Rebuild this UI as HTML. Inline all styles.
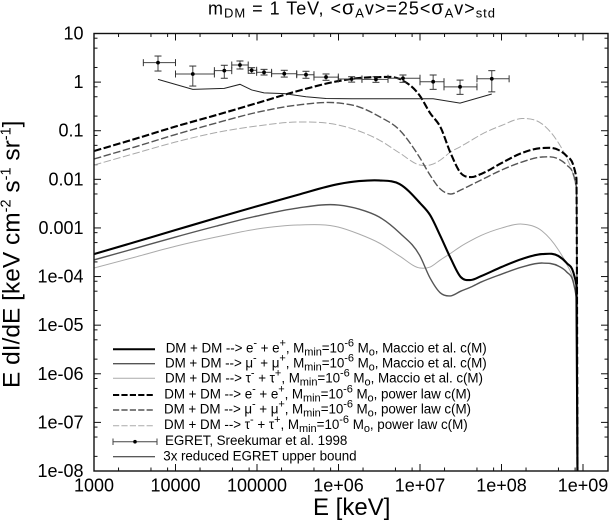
<!DOCTYPE html>
<html lang="en">
<head>
<meta charset="utf-8">
<title>Gamma-ray spectrum chart</title>
<style>
html,body{margin:0;padding:0;background:#fff;}
svg{display:block;font-family:"Liberation Sans",sans-serif;fill:#000;}
.leg{font-size:13.4px;}
.tk{font-size:18px;}
</style>
</head>
<body>
<svg id="chart" xmlns="http://www.w3.org/2000/svg" width="613" height="520" viewBox="0 0 613 520">
<defs><clipPath id="plot-clip"><rect x="94" y="33.5" width="514" height="437.5"/></clipPath></defs>
<text x="208" y="14.5" font-size="18" textLength="287">m<tspan dy="3" font-size="13">DM</tspan><tspan dy="-3"> = 1 TeV, &lt;</tspan><tspan font-size="20">σ</tspan><tspan dy="3" font-size="13">A</tspan><tspan dy="-3">v&gt;=25&lt;</tspan><tspan font-size="20">σ</tspan><tspan dy="3" font-size="13">A</tspan><tspan dy="-3">v&gt;</tspan><tspan dy="3" font-size="13">std</tspan></text>
<text transform="translate(19.5,388) rotate(-90)" font-size="24.5">E dI/dE [keV cm<tspan dy="-9" font-size="14.5">-2</tspan><tspan dy="9"> s</tspan><tspan dy="-9" font-size="14.5">-1</tspan><tspan dy="9"> sr</tspan><tspan dy="-9" font-size="14.5">-1</tspan><tspan dy="9">]</tspan></text>
<text x="313" y="515" font-size="24">E [keV]</text>
<g id="ticks"></g>
<g id="series" clip-path="url(#plot-clip)"></g>
<rect x="94" y="33.5" width="514" height="437.5" fill="none" stroke="#111" stroke-width="1.4"/>
<g>
  <line x1="113" x2="155" y1="349.3" y2="349.3" stroke="#000" stroke-width="2"/>
  <line x1="113" x2="155" y1="363.7" y2="363.7" stroke="#555" stroke-width="1.4"/>
  <line x1="113" x2="155" y1="378.3" y2="378.3" stroke="#aaa" stroke-width="1"/>
  <line x1="113" x2="155" y1="395" y2="395" stroke="#000" stroke-width="2" stroke-dasharray="6.2 2.2"/>
  <line x1="113" x2="155" y1="410" y2="410" stroke="#555" stroke-width="1.4" stroke-dasharray="6.2 2.2"/>
  <line x1="113" x2="155" y1="425.7" y2="425.7" stroke="#aaa" stroke-width="1" stroke-dasharray="6.2 2.2"/>
  <g>
    <line x1="113" x2="157" y1="441.7" y2="441.7" stroke="#444" stroke-width="1"/>
    <line x1="113" x2="113" y1="438.5" y2="445" stroke="#444" stroke-width="1"/>
    <line x1="157" x2="157" y1="438.5" y2="445" stroke="#444" stroke-width="1"/>
    <circle cx="135" cy="441.7" r="1.8" fill="#000"/>
  </g>
  <line x1="113" x2="155" y1="456.7" y2="456.7" stroke="#222" stroke-width="1"/>
  <text class="leg" x="165.7" y="352.7" textLength="321">DM + DM --&gt; e<tspan dy="-6" font-size="11">-</tspan><tspan dy="6"> + e</tspan><tspan dy="-6" font-size="11">+</tspan><tspan dy="6">, M</tspan><tspan dy="3" font-size="11">min</tspan><tspan dy="-3">=10</tspan><tspan dy="-6" font-size="11">-6</tspan><tspan dy="6"> M</tspan><tspan dy="3" font-size="11">o</tspan><tspan dy="-3">, Maccio et al. c(M)</tspan></text>
  <text class="leg" x="165" y="367.3" textLength="321.7">DM + DM --&gt; μ<tspan dy="-6" font-size="11">-</tspan><tspan dy="6"> + μ</tspan><tspan dy="-6" font-size="11">+</tspan><tspan dy="6">, M</tspan><tspan dy="3" font-size="11">min</tspan><tspan dy="-3">=10</tspan><tspan dy="-6" font-size="11">-6</tspan><tspan dy="6"> M</tspan><tspan dy="3" font-size="11">o</tspan><tspan dy="-3">, Maccio et al. c(M)</tspan></text>
  <text class="leg" x="165" y="382.7" textLength="318">DM + DM --&gt; τ<tspan dy="-6" font-size="11">-</tspan><tspan dy="6"> + τ</tspan><tspan dy="-6" font-size="11">+</tspan><tspan dy="6">, M</tspan><tspan dy="3" font-size="11">min</tspan><tspan dy="-3">=10</tspan><tspan dy="-6" font-size="11">-6</tspan><tspan dy="6"> M</tspan><tspan dy="3" font-size="11">o</tspan><tspan dy="-3">, Maccio et al. c(M)</tspan></text>
  <text class="leg" x="164.3" y="398.3" textLength="306.7">DM + DM --&gt; e<tspan dy="-6" font-size="11">-</tspan><tspan dy="6"> + e</tspan><tspan dy="-6" font-size="11">+</tspan><tspan dy="6">, M</tspan><tspan dy="3" font-size="11">min</tspan><tspan dy="-3">=10</tspan><tspan dy="-6" font-size="11">-6</tspan><tspan dy="6"> M</tspan><tspan dy="3" font-size="11">o</tspan><tspan dy="-3">, power law c(M)</tspan></text>
  <text class="leg" x="164" y="413.3" textLength="307">DM + DM --&gt; μ<tspan dy="-6" font-size="11">-</tspan><tspan dy="6"> + μ</tspan><tspan dy="-6" font-size="11">+</tspan><tspan dy="6">, M</tspan><tspan dy="3" font-size="11">min</tspan><tspan dy="-3">=10</tspan><tspan dy="-6" font-size="11">-6</tspan><tspan dy="6"> M</tspan><tspan dy="3" font-size="11">o</tspan><tspan dy="-3">, power law c(M)</tspan></text>
  <text class="leg" x="164" y="429" textLength="303.7">DM + DM --&gt; τ<tspan dy="-6" font-size="11">-</tspan><tspan dy="6"> + τ</tspan><tspan dy="-6" font-size="11">+</tspan><tspan dy="6">, M</tspan><tspan dy="3" font-size="11">min</tspan><tspan dy="-3">=10</tspan><tspan dy="-6" font-size="11">-6</tspan><tspan dy="6"> M</tspan><tspan dy="3" font-size="11">o</tspan><tspan dy="-3">, power law c(M)</tspan></text>
  <text class="leg" x="165" y="445" textLength="182.3">EGRET, Sreekumar et al. 1998</text>
  <text class="leg" x="163.3" y="460.7" textLength="193.3">3x reduced EGRET upper bound</text>
</g>
</svg>
<script>
// ---- Chart data (energy in keV, flux in keV cm^-2 s^-1 sr^-1) ----
const xTickValues = [1e3, 1e4, 1e5, 1e6, 1e7, 1e8, 1e9];
const xTickLabels = ["1000", "10000", "100000", "1e+06", "1e+07", "1e+08", "1e+09"];
const yTickValues = [10, 1, 0.1, 0.01, 0.001, 1e-4, 1e-5, 1e-6, 1e-7, 1e-8];
const yTickLabels = ["10", "1", "0.1", "0.01", "0.001", "1e-04", "1e-05", "1e-06", "1e-07", "1e-08"];

const energies = [1e3, 3.16e3, 1e4, 3.16e4, 1e5, 3.16e5, 1e6, 1.78e6, 3.16e6, 5.62e6, 1e7, 1.33e7, 1.78e7, 2.37e7, 3.16e7, 4.22e7, 5.62e7, 1e8, 1.78e8, 3.16e8, 5.01e8, 6.31e8, 7.59e8, 8.3e8, 8.6e8];

const eMaccio = [2.9e-4, 5.1e-4, 9.05e-4, 1.6e-3, 2.8e-3, 4.8e-3, 8.0e-3, 9.2e-3, 9.5e-3, 8.0e-3, 3.25e-3, 1.84e-3, 6.8e-4, 2.4e-4, 9.8e-5, 8.5e-5, 1.02e-4, 1.57e-4, 2.3e-4, 2.9e-4, 2.64e-4, 1.9e-4, 1.24e-4, 6.7e-5, 1e-9];
const muMaccio = [2.2e-4, 3.77e-4, 6.5e-4, 1.09e-3, 1.76e-3, 2.57e-3, 2.96e-3, 2.45e-3, 1.68e-3, 7.9e-4, 2.64e-4, 9.3e-5, 4.6e-5, 4.0e-5, 5.0e-5, 6.1e-5, 7.7e-5, 1.12e-4, 1.57e-4, 1.9e-4, 1.64e-4, 1.24e-4, 7.7e-5, 3.6e-5, 1e-9];
const tauMaccio = [1.5e-4, 2.5e-4, 4.2e-4, 6.5e-4, 9.5e-4, 1.15e-3, 1.04e-3, 7.5e-4, 4.9e-4, 2.64e-4, 1.5e-4, 1.57e-4, 2.2e-4, 3.0e-4, 4.17e-4, 5.5e-4, 7.0e-4, 9.95e-4, 1.2e-3, 8.6e-4, 3.5e-4, 1.8e-4, 8.5e-5, 3.8e-5, 1e-9];
const ePower = [0.0382, 0.0675, 0.122, 0.21, 0.37, 0.656, 1.05, 1.21, 1.27, 1.16, 0.518, 0.231, 0.119, 0.0348, 0.0135, 0.0111, 0.0129, 0.0216, 0.0348, 0.044, 0.0401, 0.0301, 0.0197, 0.0106, 1e-9];
const muPower = [0.0262, 0.0462, 0.0835, 0.144, 0.239, 0.338, 0.372, 0.309, 0.196, 0.103, 0.0274, 0.0122, 0.0063, 0.00499, 0.00603, 0.00764, 0.00968, 0.0155, 0.0227, 0.0288, 0.0262, 0.0197, 0.0129, 0.00695, 1e-9];
const tauPower = [0.0197, 0.034, 0.0585, 0.0918, 0.125, 0.151, 0.131, 0.0986, 0.0644, 0.0348, 0.0197, 0.0197, 0.025, 0.0365, 0.0473, 0.0628, 0.0835, 0.128, 0.178, 0.137, 0.0558, 0.0274, 0.0122, 0.00603, 1e-9];

const egretE = [6.1e3, 1.63e4, 3.97e4, 6.18e4, 8.6e4, 1.22e5, 2.16e5, 3.99e5, 7.03e5, 1.45e6, 2.88e6, 6.18e6, 1.45e7, 3.1e7, 7.6e7];
const egretEMin = [4.03e3, 1.0e4, 3.0e4, 4.9e4, 7.8e4, 9.9e4, 1.51e5, 3.07e5, 5.0e5, 9.95e5, 1.94e6, 4.05e6, 1e7, 1.97e7, 5e7];
const egretEMax = [1.0e4, 3.0e4, 4.9e4, 7.8e4, 9.9e4, 1.51e5, 3.07e5, 5.0e5, 9.95e5, 1.94e6, 4.05e6, 1e7, 1.97e7, 5e7, 1.24e8];
const egretFlux = [2.51, 1.47, 1.72, 2.25, 1.75, 1.59, 1.49, 1.42, 1.27, 1.16, 1.14, 1.2, 1.02, 0.8, 1.17];
const egretLow = [1.69, 0.83, 1.2, 1.86, 1.52, 1.4, 1.27, 1.2, 1.09, 1.0, 0.99, 0.99, 0.71, 0.56, 0.63];
const egretHigh = [3.44, 2.14, 2.22, 2.72, 1.98, 1.83, 1.75, 1.67, 1.47, 1.29, 1.29, 1.4, 1.4, 1.1, 1.72];
const upperBound = [1.14, 0.71, 0.745, 0.9, 0.69, 0.6, 0.58, 0.5, 0.46, 0.455, 0.455, 0.455, 0.455, 0.37, 0.57];

// ---- Axis functions ----
const PLOT = {left: 94, right: 608, top: 33.5, bottom: 471};
const X_PER_DECADE = 81.5;
const Y_PER_DECADE = (PLOT.bottom - PLOT.top) / 9;
function xScale(e) { return PLOT.left + (Math.log10(e) - 3) * X_PER_DECADE; }
function yScale(v) { return PLOT.top + (1 - Math.log10(v)) * Y_PER_DECADE; }

const NS = "http://www.w3.org/2000/svg";
const tickLayer = document.getElementById("ticks");
const seriesLayer = document.getElementById("series");

function mk(tag, parent) {
  const el = document.createElementNS(NS, tag);
  parent.appendChild(el);
  return el;
}
function seg(parent, x1, y1, x2, y2, color, width) {
  const l = mk("line", parent);
  l.setAttribute("x1", x1); l.setAttribute("y1", y1);
  l.setAttribute("x2", x2); l.setAttribute("y2", y2);
  l.setAttribute("stroke", color); l.setAttribute("stroke-width", width);
  return l;
}

// ---- Ticks and labels ----
const minorFactors = [2, 5, 8];
xTickValues.forEach(function (v, i) {
  const x = xScale(v);
  const top = seg(tickLayer, x, PLOT.top, x, PLOT.top + 7, "#111", 1);
  
  
  const bot = seg(tickLayer, x, PLOT.bottom, x, PLOT.bottom - 7, "#111", 1);
  
  
  const t = mk("text", tickLayer);
  
  
  t.setAttribute("class", "tk");
  t.setAttribute("x", x);
  t.setAttribute("y", 491.7);
  t.setAttribute("text-anchor", "middle");
  t.textContent = xTickLabels[i];
  minorFactors.forEach(function (f) {
    const mx = xScale(v * f);
    if (mx < PLOT.right - 1) {
      seg(tickLayer, mx, PLOT.top, mx, PLOT.top + 3.5, "#111", 1);
      seg(tickLayer, mx, PLOT.bottom, mx, PLOT.bottom - 3.5, "#111", 1);
    }
  });
});
yTickValues.forEach(function (v, i) {
  const y = yScale(v);
  const lt = seg(tickLayer, PLOT.left, y, PLOT.left + 7, y, "#111", 1);
  
  
  const rt = seg(tickLayer, PLOT.right, y, PLOT.right - 7, y, "#111", 1);
  
  
  const t = mk("text", tickLayer);
  
  
  t.setAttribute("class", "tk");
  t.setAttribute("x", 83.5);
  t.setAttribute("y", y + 6);
  t.setAttribute("text-anchor", "end");
  t.textContent = yTickLabels[i];
  if (i < yTickValues.length - 1) {
    minorFactors.forEach(function (f) {
      const my = yScale(v / 10 * f);
      seg(tickLayer, PLOT.left, my, PLOT.left + 3.5, my, "#111", 1);
      seg(tickLayer, PLOT.right, my, PLOT.right - 3.5, my, "#111", 1);
    });
  }
});

// ---- Smooth cubic path through the data points ----
function smoothPath(xs, ys) {
  const n = xs.length, d = [], m = [];
  for (let i = 0; i < n - 1; i++) d.push((ys[i + 1] - ys[i]) / (xs[i + 1] - xs[i]));
  m[0] = d[0];
  m[n - 1] = d[n - 2];
  for (let i = 1; i < n - 2; i++) {
    const h0 = xs[i] - xs[i - 1], h1 = xs[i + 1] - xs[i];
    m[i] = (h1 * d[i - 1] + h0 * d[i]) / (h0 + h1);
  }
  m[n - 2] = d[n - 3] * 1.5;
  let p = "M" + xs[0].toFixed(2) + " " + ys[0].toFixed(2);
  for (let i = 0; i < n - 1; i++) {
    const h = (xs[i + 1] - xs[i]) / 3;
    p += "C" + (xs[i] + h).toFixed(2) + " " + (ys[i] + m[i] * h).toFixed(2) + " " +
         (xs[i + 1] - h).toFixed(2) + " " + (ys[i + 1] - m[i + 1] * h).toFixed(2) + " " +
         xs[i + 1].toFixed(2) + " " + ys[i + 1].toFixed(2);
  }
  return p;
}

// ---- Series ----
function drawSeries(values, color, width, dash, name) {
  const path = mk("path", seriesLayer);
  
  
  path.setAttribute("d", smoothPath(energies.map(xScale), values.map(yScale)));
  path.setAttribute("fill", "none");
  path.setAttribute("stroke", color);
  path.setAttribute("stroke-width", width);
  if (dash) path.setAttribute("stroke-dasharray", dash);
}
drawSeries(tauPower, "#aaa", 1, "7.5 2.5", "series-tau-power-law");
drawSeries(tauMaccio, "#aaa", 1, null, "series-tau-maccio");
drawSeries(muPower, "#555", 1.4, "7.5 2.5", "series-mu-power-law");
drawSeries(muMaccio, "#555", 1.4, null, "series-mu-maccio");
drawSeries(ePower, "#000", 2.1, "7.5 2.5", "series-e-power-law");
drawSeries(eMaccio, "#000", 2.1, null, "series-e-maccio");

// ---- Upper bound line ----
const boundLine = mk("polyline", seriesLayer);


boundLine.setAttribute("points", egretE.map(function (e, i) {
  return xScale(e).toFixed(2) + "," + yScale(upperBound[i]).toFixed(2);
}).join(" "));
boundLine.setAttribute("fill", "none");
boundLine.setAttribute("stroke", "#222");
boundLine.setAttribute("stroke-width", 1);

// ---- EGRET data points ----
egretE.forEach(function (e, i) {
  const g = mk("g", seriesLayer);
  
  
  const x = xScale(e), y = yScale(egretFlux[i]);
  const x0 = xScale(egretEMin[i]), x1 = xScale(egretEMax[i]);
  const y0 = yScale(egretLow[i]), y1 = yScale(egretHigh[i]);
  seg(g, x0, y, x1, y, "#444", 1);
  seg(g, x, y0, x, y1, "#444", 1);
  seg(g, x0, y - 3.5, x0, y + 3.5, "#333", 1);
  seg(g, x1, y - 3.5, x1, y + 3.5, "#333", 1);
  seg(g, x - 3.5, y0, x + 3.5, y0, "#333", 1);
  seg(g, x - 3.5, y1, x + 3.5, y1, "#333", 1);
  const c = mk("circle", g);
  c.setAttribute("cx", x);
  c.setAttribute("cy", y);
  c.setAttribute("r", 1.9);
  c.setAttribute("fill", "#000");
});
</script>
</body>
</html>
